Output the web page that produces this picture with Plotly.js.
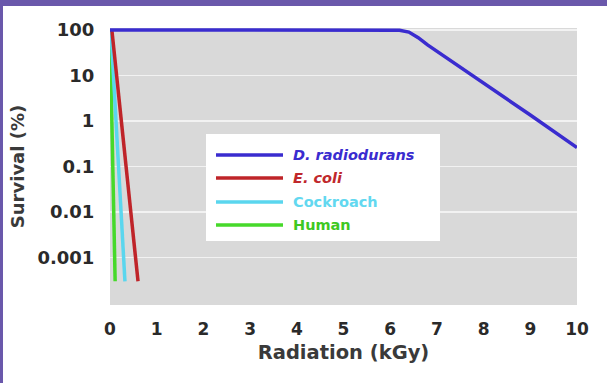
<!DOCTYPE html>
<html>
<head>
<meta charset="utf-8">
<script src="https://cdn.plot.ly/plotly-3.0.1.min.js"></script>
<style>
  html, body { margin: 0; padding: 0; background: #ffffff; }
  #wrap { width: 604px; height: 377px; border-top: 6px solid #6a58ab; border-left: 3px solid #6a58ab; background: #ffffff; }
  #chart { width: 604px; height: 377px; }
</style>
</head>
<body>
<div id="wrap"><div id="chart"></div></div>
<script>
// ---- data ----
const seriesNames = ["D. radiodurans", "E. coli", "Cockroach", "Human"];

const radioduransDose     = [0, 6.0, 6.2, 6.4, 6.6, 6.8, 7.0, 8.0, 9.0, 10.0];
const radioduransSurvival = [100, 100, 99, 90, 68, 47, 34, 7.0, 1.35, 0.26];

const ecoliDose     = [0.04, 0.60];
const ecoliSurvival = [100, 0.0003];

const cockroachDose     = [0.02, 0.32];
const cockroachSurvival = [100, 0.0003];

const humanDose     = [0.0, 0.11];
const humanSurvival = [100, 0.0003];

const xTickVals = [0, 1, 2, 3, 4, 5, 6, 7, 8, 9, 10];
const yTickVals = [100, 10, 1, 0.1, 0.01, 0.001];
const yTickText = ["100", "10", "1", "0.1", "0.01", "0.001"];

// ---- styling ----
const colors = {
  "D. radiodurans": "#3a2ccf",
  "E. coli": "#bf2429",
  "Cockroach": "#5ad6ee",
  "Human": "#46d92a"
};
const textColors = {
  "D. radiodurans": "#3a2ccf",
  "E. coli": "#c0282c",
  "Cockroach": "#62d8f0",
  "Human": "#3ec822"
};
const FONT = "DejaVu Sans, Verdana, sans-serif";

function tr(name, x, y) {
  return {
    type: "scatter", mode: "lines", name: name, x: x, y: y,
    line: { color: colors[name], width: 3.5 },
    showlegend: false, hoverinfo: "skip"
  };
}

// draw order: human first, blue last (on top)
const data = [
  tr(seriesNames[3], humanDose, humanSurvival),
  tr(seriesNames[2], cockroachDose, cockroachSurvival),
  tr(seriesNames[1], ecoliDose, ecoliSurvival),
  tr(seriesNames[0], radioduransDose, radioduransSurvival)
];

// plot-area geometry within the 604x377 div
const M = { l: 107, r: 30, t: 22, b: 78 };
const W = 604, H = 377;
const PW = W - M.l - M.r, PH = H - M.t - M.b;
// page pixel (window coords) -> paper
const offX = 3, offY = 6;
const px = v => (v - offX - M.l) / PW;
const py = v => (H - M.b - (v - offY)) / PH;

// custom legend (long line samples)
const shapes = [{
  type: "rect", xref: "paper", yref: "paper",
  x0: px(206), x1: px(440), y0: py(241), y1: py(134),
  fillcolor: "#ffffff", line: { width: 0 }, layer: "above"
}];
const annotations = [];
const rowY = [155, 178, 202, 225];
seriesNames.forEach((n, i) => {
  shapes.push({
    type: "line", xref: "paper", yref: "paper",
    x0: px(216), x1: px(283), y0: py(rowY[i]), y1: py(rowY[i]),
    line: { color: colors[n], width: 3.5 }, layer: "above"
  });
  const label = (i < 2) ? "<i>" + n + "</i>" : n;
  annotations.push({
    xref: "paper", yref: "paper", x: px(291), y: py(rowY[i]),
    xanchor: "left", yanchor: "middle", showarrow: false,
    text: label,
    font: { family: FONT, size: 14.5, color: textColors[n], weight: "bold" }
  });
});

const layout = {
  width: W, height: H,
  margin: M,
  paper_bgcolor: "#ffffff",
  plot_bgcolor: "#d9d9d9",
  showlegend: false,
  font: { family: FONT, color: "#2a2a2a" },
  xaxis: {
    range: [0, 10],
    tickvals: xTickVals,
    showgrid: false, zeroline: false, showline: false,
    ticks: "outside", ticklen: 9, tickcolor: "rgba(0,0,0,0)",
    tickfont: { family: FONT, size: 17, color: "#2a2a2a", weight: "bold" },
    title: { text: "Radiation (kGy)", standoff: 6,
             font: { family: FONT, size: 19.5, color: "#3a3a3a", weight: "bold" } },
    fixedrange: true
  },
  yaxis: {
    type: "log",
    range: [-4.044, 2.044],
    tickvals: yTickVals, ticktext: yTickText,
    showgrid: true, gridcolor: "#f2f2f2", gridwidth: 1.5,
    zeroline: false, showline: false,
    ticks: "outside", ticklen: 11, tickcolor: "rgba(0,0,0,0)",
    tickfont: { family: FONT, size: 18, color: "#2a2a2a", weight: "bold" },
    title: { text: "Survival (%)", standoff: 8,
             font: { family: FONT, size: 18, color: "#3a3a3a", weight: "bold" } },
    fixedrange: true
  },
  shapes: shapes,
  annotations: annotations
};

Plotly.newPlot("chart", data, layout, { displayModeBar: false, staticPlot: true });
</script>
</body>
</html>
